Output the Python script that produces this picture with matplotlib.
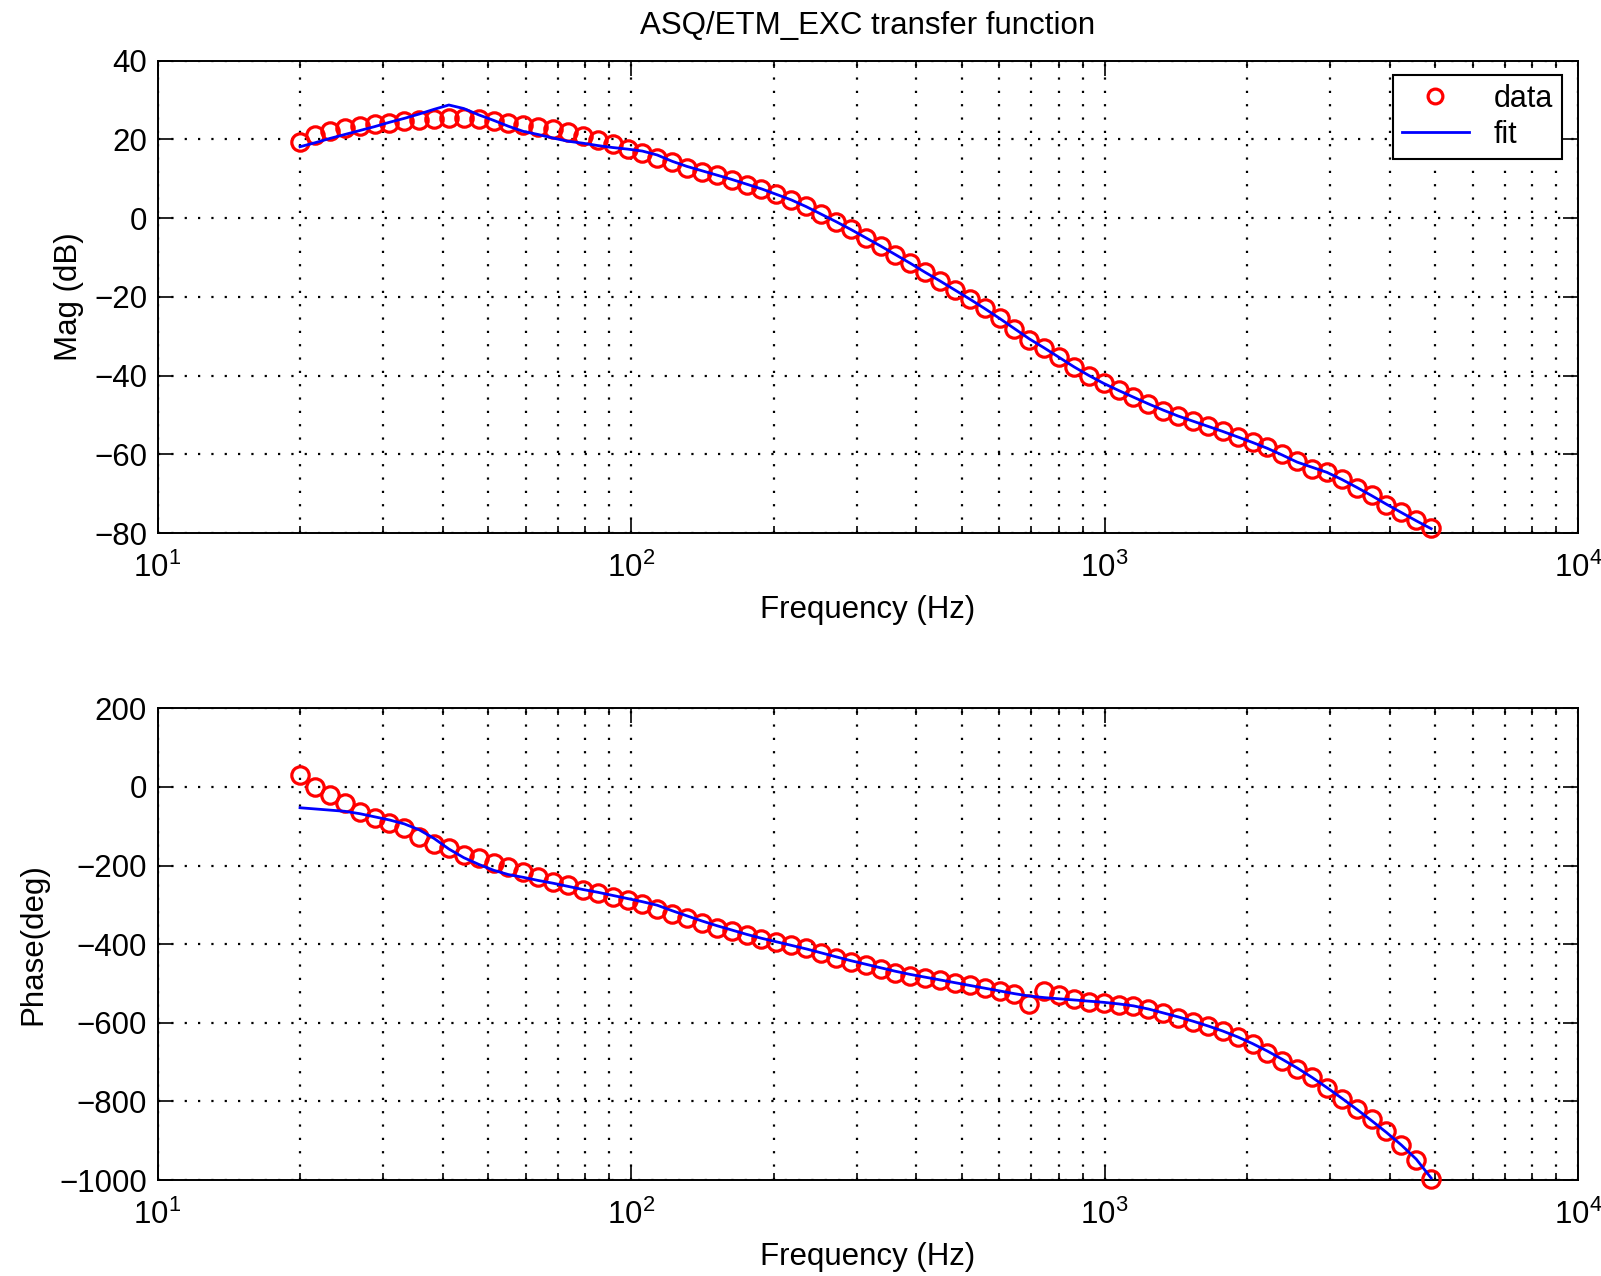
import matplotlib
matplotlib.use('Agg')
import matplotlib.pyplot as plt
from matplotlib.ticker import LogLocator, FixedLocator, NullFormatter, LogFormatterSciNotation

plt.rcParams['font.family'] = ['Liberation Sans', 'DejaVu Sans']
plt.rcParams['mathtext.fontset'] = 'custom'
plt.rcParams['mathtext.rm'] = 'Liberation Sans'
plt.rcParams['mathtext.it'] = 'Liberation Sans:italic'
plt.rcParams['mathtext.bf'] = 'Liberation Sans:bold'
plt.rcParams['mathtext.default'] = 'regular'

# ---------------- data ----------------
freq = [20.0, 21.5, 23.12, 24.85, 26.72, 28.73, 30.88, 33.2, 35.69, 38.37,
        41.25, 44.35, 47.68, 51.26, 55.1, 59.24, 63.69, 68.47, 73.61, 79.13,
        85.07, 91.46, 98.33, 105.7, 113.6, 122.2, 131.3, 141.2, 151.8, 163.2,
        175.4, 188.6, 202.8, 218.0, 234.3, 251.9, 270.8, 291.2, 313.0, 336.5,
        361.8, 388.9, 418.1, 449.5, 483.3, 519.5, 558.5, 600.4, 645.5, 693.9,
        746.0, 802.0, 862.2, 926.9, 996.0, 1071, 1151, 1238, 1331, 1431,
        1538, 1653, 1777, 1911, 2054, 2208, 2374, 2552, 2744, 2950,
        3171, 3409, 3665, 3940, 4236, 4554, 4896]

mag_data = [19.4, 21.0, 22.2, 22.9, 23.4, 23.8, 24.2, 24.6, 24.9, 25.2,
            25.5, 25.4, 25.1, 24.6, 24.1, 23.6, 23.2, 22.6, 21.8, 20.8,
            19.8, 18.7, 17.5, 16.5, 15.3,
            14.1, 12.8, 11.8, 10.9, 9.7, 8.5, 7.4, 6.1, 4.6, 3.0,
            0.9, -1.0, -2.8, -5.1, -7.2, -9.3, -11.5, -13.8, -16.0, -18.2,
            -20.6, -22.9, -25.4, -28.2, -30.9, -33.0, -35.3, -37.8, -40.1, -42.0,
            -43.7, -45.4, -47.2, -48.9, -50.4, -51.6, -52.8, -54.1, -55.7, -56.8,
            -58.2, -60.0, -61.8, -63.8, -64.6, -66.4, -68.6, -70.4, -72.8, -74.6,
            -76.7, -78.7]

mag_fit = [18.1, 19.1, 20.2, 21.2, 22.2, 23.2, 24.3, 25.3, 26.4, 27.6,
           28.7, 27.8, 26.2, 24.8, 23.3, 22.0, 21.2, 20.3, 19.5, 19.0,
           18.4, 17.9, 17.5, 17.0, 16.0,
           14.4, 13.1, 12.0, 10.9, 9.8, 8.6, 7.4, 6.0, 4.6, 2.9,
           1.0, -0.9, -2.9, -5.0, -7.1, -9.3, -11.5, -13.8, -16.0, -18.3,
           -20.6, -23.0, -25.5, -28.1, -30.7, -33.0, -35.4, -37.8, -40.0, -42.0,
           -43.8, -45.5, -47.2, -48.8, -50.3, -51.6, -52.9, -54.2, -55.6, -57.0,
           -58.5, -60.2, -62.0, -63.3, -64.6, -66.4, -68.4, -70.5, -72.7, -74.8,
           -76.9, -78.9]

phase_data = [30, 0, -21, -42, -63, -80, -93, -105, -127, -144,
              -156, -173, -182, -194, -203, -216, -228, -241, -250, -262,
              -271, -280, -288, -297, -310,
              -323, -333, -346, -358, -367, -377, -388, -395, -403, -411,
              -423, -436, -445, -453, -462, -473, -481, -485, -492, -500,
              -505, -512, -520, -528, -552, -518, -530, -540, -546, -550,
              -554, -557, -566, -576, -587, -597, -609, -621, -636, -655,
              -678, -696, -717, -739, -765, -794, -819, -846, -876, -912,
              -950, -998]

phase_fit = [-53, -56, -59, -62, -68, -76, -84, -94, -109, -131,
             -158, -180, -197, -212, -223, -230, -238, -245, -253, -261,
             -268, -276, -284, -292, -301,
             -315, -328, -341, -353, -364, -375, -385, -394, -403, -412,
             -422, -432, -442, -451, -460, -469, -477, -484, -491, -498,
             -505, -512, -519, -526, -532, -536, -539, -542, -545, -548,
             -552, -557, -565, -575, -585, -596, -608, -621, -636, -653,
             -672, -693, -715, -739, -765, -792, -820, -849, -879, -911,
             -947, -995]

mag_ticks = [-80, -60, -40, -20, 0, 20, 40]
phase_ticks = [-1000, -800, -600, -400, -200, 0, 200]
freq_ticks = [10, 100, 1000, 10000]

title = 'ASQ/ETM_EXC transfer function'

# ---------------- figure ----------------
W, H = 1601, 1276
fig = plt.figure(figsize=(W / 100, H / 100), dpi=100)
ax1 = fig.add_axes([157.5 / W, 1 - 533 / H, 1420.5 / W, 472.5 / H])
ax2 = fig.add_axes([157.5 / W, 1 - 1180 / H, 1420.5 / W, 471.7 / H])

FS = 22.5
grid_kw = dict(color='black', linestyle=(0, (1, 5.0)), linewidth=1.6,
               dash_capstyle='butt')


def style(ax, yticks, ylabel, ylabel_x):
    ax.set_xscale('log')
    ax.set_xlim(10, 10000)
    ax.set_ylim(yticks[0], yticks[-1])
    ax.xaxis.set_major_locator(FixedLocator(freq_ticks))
    ax.xaxis.set_major_formatter(LogFormatterSciNotation())
    ax.xaxis.set_minor_locator(LogLocator(base=10, subs=range(2, 10), numticks=20))
    ax.xaxis.set_minor_formatter(NullFormatter())
    ax.yaxis.set_major_locator(FixedLocator(yticks))
    ax.grid(True, which='major', axis='both', **grid_kw)
    ax.grid(True, which='minor', axis='x', **grid_kw)
    ax.tick_params(which='both', direction='in', top=True, right=True,
                   labelsize=FS, width=1.2, colors='black')
    ax.tick_params(which='major', length=10.5)
    ax.tick_params(which='minor', length=5)
    ax.tick_params(axis='x', pad=14)
    ax.tick_params(axis='y', pad=7.5)
    for sp in ax.spines.values():
        sp.set_linewidth(1.4)
    ax.set_xlabel('Frequency (Hz)', fontsize=FS, va='center')
    ax.xaxis.set_label_coords(0.5, -0.163)
    ax.set_ylabel(ylabel, fontsize=FS, va='center')
    ax.yaxis.set_label_coords(ylabel_x, 0.5)
    ax.set_axisbelow(True)


ax1.plot(freq, mag_data, 'o', mfc='none', mec='red', ms=12.5, mew=2.3,
         label='data', clip_on=False, zorder=3)
ax1.plot(freq, mag_fit, '-', color='blue', lw=2.0, label='fit', zorder=4)
style(ax1, mag_ticks, 'Mag (dB)', -0.062)

ax2.plot(freq, phase_data, 'o', mfc='none', mec='red', ms=12.5, mew=2.3,
         label='data', clip_on=False, zorder=3)
ax2.plot(freq, phase_fit, '-', color='blue', lw=2.0, label='fit', zorder=4)
style(ax2, phase_ticks, 'Phase(deg)', -0.0876)

leg = ax1.legend(loc='upper right', bbox_to_anchor=(0.9887, 0.9693),
                 borderaxespad=0, fontsize=22, frameon=True, fancybox=False,
                 edgecolor='black', framealpha=1, handlelength=2.2,
                 handletextpad=0.8, labelspacing=0.19, borderpad=0.3,
                 markerscale=0.85)
leg.get_frame().set_linewidth(1.5)
leg.set_zorder(10)

fig.text((157.5 + 1420.5 / 2) / W, 1 - 26.5 / H, title, fontsize=FS,
         ha='center', va='center')

fig.savefig('out.png', dpi=100)
